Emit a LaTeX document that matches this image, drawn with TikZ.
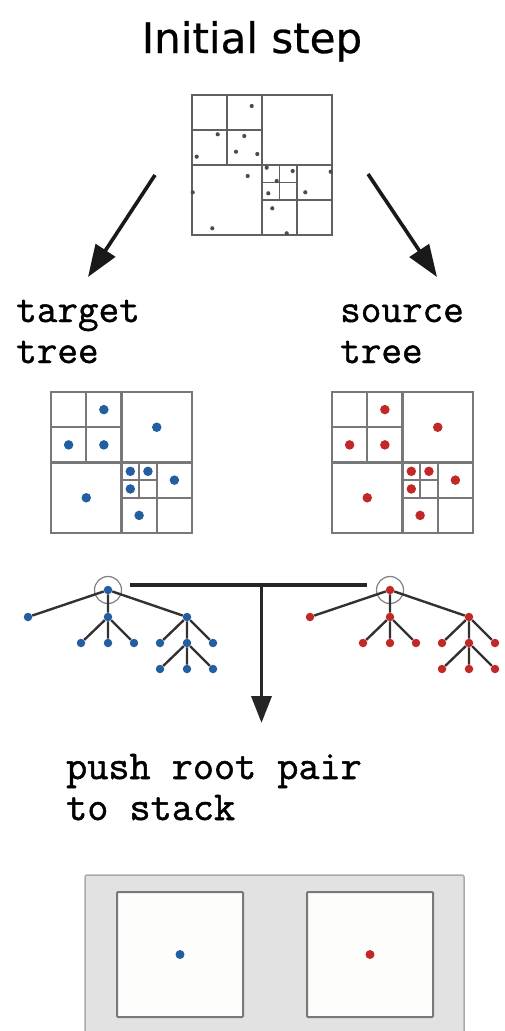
\documentclass[tikz,border=0pt]{standalone}
\usepackage{fontspec}
\newfontfamily\titlefont[FakeBold=0.6]{DejaVu Sans}
\newfontfamily\heavymono[FakeBold=1.2]{Latin Modern Mono}
\usetikzlibrary{arrows.meta}

\definecolor{tgtblue}{RGB}{35,95,160}
\definecolor{srcred}{RGB}{195,40,40}
\definecolor{gridgray}{RGB}{120,120,120}
\definecolor{edgegray}{RGB}{50,50,50}
\definecolor{stackfill}{RGB}{226,226,226}
\definecolor{stackline}{RGB}{170,170,170}
\definecolor{cellfill}{RGB}{253,253,251}

\tikzset{
  topgrid/.style={draw=gridgray!80!black, line width=1.5pt},
  midgrid/.style={draw=gridgray, line width=2.2pt},
  pdot/.style={circle, fill=black!70, inner sep=0pt, minimum size=4.2pt},
  qdot/.style={circle, inner sep=0pt, minimum size=9.5pt},
  tnode/.style={circle, inner sep=0pt, minimum size=8.5pt},
  ring/.style={circle, draw=gray, line width=1.2pt, inner sep=0pt, minimum size=27pt},
  tedge/.style={draw=edgegray, line width=2.4pt},
  bigarrow/.style={draw=black!90, line width=3.6pt, -{Triangle[length=32pt,width=23pt]}},
  downarrow/.style={draw=black!85, line width=3.6pt, -{Triangle[length=27pt,width=20pt]}},
  monolabel/.style={font=\heavymono\fontsize{40}{41}\selectfont, inner sep=0pt, align=left, anchor=base west},
  stackbox/.style={fill=stackfill, draw=stackline, line width=1.5pt, rounded corners=2pt},
  stackcell/.style={fill=cellfill, draw=gridgray, line width=2pt, rounded corners=1pt},
}

% quadtree cells in the unit square
\newcommand\quadcells[1]{%
  \draw[#1] (0,0) rectangle (1,1);
  \draw[#1] (0.5,0) -- (0.5,1) (0,0.5) -- (1,0.5);
  \draw[#1] (0.25,0) -- (0.25,0.5) (0,0.25) -- (0.5,0.25);
  \draw[#1] (0.75,0.5) -- (0.75,1) (0.5,0.75) -- (1,0.75);
  \draw[#1] (0.625,0.5) -- (0.625,0.75) (0.5,0.625) -- (0.75,0.625);
}

% one dot per leaf cell
\newcommand\leafdots[2]{%
  \foreach \u/\v [count=\i] in {0.375/0.125, 0.75/0.25, 0.125/0.375, 0.375/0.375,
      0.25/0.75, 0.5625/0.5625, 0.6875/0.5625, 0.5625/0.6875, 0.875/0.625, 0.625/0.875}
    \node[qdot, fill=#2] (#1\i) at (\u,\v) {};
}

% tree of the quadtree, root at the origin
\newcommand\celltree[2]{%
  \node[ring] (#1ring) at (0,0) {};
  \node[tnode, fill=#2] (#1r) at (0,0) {};
  \node[tnode, fill=#2] (#1a) at (-80,27) {};
  \node[tnode, fill=#2] (#1b) at (0,27) {};
  \node[tnode, fill=#2] (#1c) at (79,27) {};
  \node[tnode, fill=#2] (#1b1) at (-27,53) {};
  \node[tnode, fill=#2] (#1b2) at (0,53) {};
  \node[tnode, fill=#2] (#1b3) at (26,53) {};
  \node[tnode, fill=#2] (#1c1) at (52,53) {};
  \node[tnode, fill=#2] (#1c2) at (79,53) {};
  \node[tnode, fill=#2] (#1c3) at (105,53) {};
  \node[tnode, fill=#2] (#1d1) at (52,79) {};
  \node[tnode, fill=#2] (#1d2) at (79,79) {};
  \node[tnode, fill=#2] (#1d3) at (105,79) {};
  \draw[tedge] (#1r) -- (#1a) (#1r) -- (#1b) (#1r) -- (#1c)
               (#1b) -- (#1b1) (#1b) -- (#1b2) (#1b) -- (#1b3)
               (#1c) -- (#1c1) (#1c) -- (#1c2) (#1c) -- (#1c3)
               (#1c2) -- (#1d1) (#1c2) -- (#1d2) (#1c2) -- (#1d3);
}

\begin{document}
\begin{tikzpicture}[x=1pt, y=-1pt]
\useasboundingbox (0,0) rectangle (504,1031);

% title
\node[font=\titlefont\fontsize{42}{50}\selectfont, inner sep=0pt, anchor=base] (title) at (252,53) {Initial step};

% all particles in one quadtree
\begin{scope}[shift={(192,95)}, scale=140]
  \quadcells{topgrid}
\end{scope}
\foreach \px/\py [count=\i] in {251.7/106, 217.7/134.3, 244.3/136, 236/151.7, 257.3/154,
    196.7/156.7, 247.7/176, 192.7/192.3, 212.3/228.3, 266.7/167.7, 292.7/171,
    276.7/181, 268.3/193.3, 305.3/192.3, 330.7/171.7, 272.3/208.3, 286.7/233.3}
  \node[pdot] (p\i) at (\px,\py) {};

% split arrows
\coordinate (splitL) at (155,175);
\coordinate (tgtTip) at (88,277);
\coordinate (splitR) at (368,174);
\coordinate (srcTip) at (437,277);
\draw[bigarrow] (splitL) -- (tgtTip);
\draw[bigarrow] (splitR) -- (srcTip);

% labels (anchored on the baseline of the last line)
\node[monolabel] (tgtlabel) at (16,363) {target\\tree};
\node[monolabel] (srclabel) at (340,363) {source\\tree};

% target and source quadtrees
\begin{scope}[shift={(51,392)}, scale=141]
  \quadcells{midgrid}
  \leafdots{tq}{tgtblue}
\end{scope}
\begin{scope}[shift={(332,392)}, scale=141]
  \quadcells{midgrid}
  \leafdots{sq}{srcred}
\end{scope}

% the two trees
\begin{scope}[shift={(108,590)}]
  \celltree{T}{tgtblue}
\end{scope}
\begin{scope}[shift={(390,590)}]
  \celltree{S}{srcred}
\end{scope}

% pairing of the roots
\coordinate (barL) at (130,585);
\coordinate (barR) at (367,585);
\coordinate (barM) at (261.5,585);
\coordinate (pushTip) at (261.5,723);
\draw[draw=black!85, line width=3.6pt] (barL) -- (barR);
\draw[downarrow] (barM) -- (pushTip);

\node[monolabel, font=\heavymono\fontsize{41}{41}\selectfont] (pushlabel) at (66,820) {push root pair\\to stack};

% the stack holding the root pair
\draw[stackbox] (85,875) rectangle (464,1040);
\node[stackcell, minimum width=126pt, minimum height=125pt, inner sep=0pt] (cellT) at (180,954.5) {};
\node[stackcell, minimum width=126pt, minimum height=125pt, inner sep=0pt] (cellS) at (370,954.5) {};
\node[tnode, fill=tgtblue, minimum size=9pt] (pairT) at (cellT.center) {};
\node[tnode, fill=srcred, minimum size=9pt] (pairS) at (cellS.center) {};
\end{tikzpicture}
\end{document}
